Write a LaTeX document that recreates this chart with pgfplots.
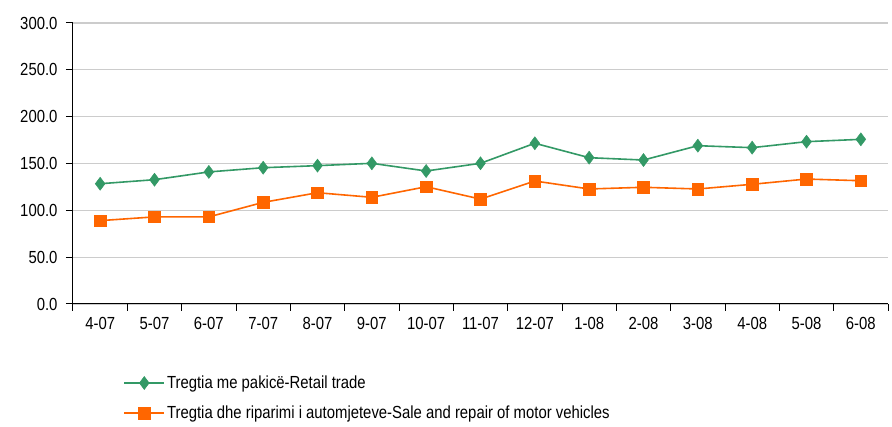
\documentclass[border=0pt]{standalone}
\usepackage{fontspec}
\setmainfont[FakeStretch=0.85]{Liberation Sans}
\usepackage{pgfplots}
\pgfplotsset{compat=1.18}
\definecolor{retail}{HTML}{339966}
\definecolor{motor}{HTML}{FF6600}
\begin{document}
\begin{tikzpicture}
\fill[white] (-73pt,-123pt) rectangle (819pt,304pt);
\begin{axis}[
  at={(0pt,0pt)}, anchor=south west,
  scale only axis, width=815pt, height=281pt,
  xmin=-0.5, xmax=14.5, ymin=0, ymax=300,
  axis x line*=bottom, axis y line*=left,
  axis line style={black, line width=1pt, -},
  xtick={-0.5,0.5,...,14.5},
  xticklabels={},
  extra x ticks={0,1,...,14},
  extra x tick labels={4-07,5-07,6-07,7-07,8-07,9-07,10-07,11-07,12-07,1-08,2-08,3-08,4-08,5-08,6-08},
  extra x tick style={major tick length=0pt, tick style={draw=none}},
  x tick label style={font=\fontsize{17.5}{19}\selectfont, yshift=-10pt},
  ytick={0,50,...,300},
  major tick length=7pt,
  tick align=outside,
  tick style={black, line width=1pt},
  ymajorgrids, grid style={gray!40, line width=1.2pt},
  yticklabel style={font=\fontsize{17.5}{19}\selectfont, xshift=-5pt, /pgf/number format/.cd, fixed, fixed zerofill, precision=1, assume math mode=true},
  scaled y ticks=false,
  clip=false,
  legend style={at={(0.058,-0.241)}, anchor=north west, draw=none, fill=none,
    font=\fontsize{17.5}{19}\selectfont, row sep=12pt, cells={anchor=west}},
  legend image code/.code={\draw[#1] (0pt,0pt) -- (40pt,0pt); \draw[#1, mark repeat=1] plot coordinates {(20pt,0pt)};},
]
\addplot[color=retail, line width=1.6pt, mark=diamond*, mark size=6.5pt, mark options={fill=retail, line width=0.5pt}]
coordinates {(0,128.4)(1,132.7)(2,141)(3,145.5)(4,147.7)(5,150.2)(6,142)(7,150.2)(8,171.6)(9,156.2)(10,153.7)(11,169)(12,166.9)(13,173.3)(14,175.8)};
\addlegendentry{Tregtia me pakicë-Retail trade}
\addplot[color=motor, line width=1.6pt, mark=square*, mark size=5.8pt, mark options={fill=motor, line width=0.5pt}]
coordinates {(0,89)(1,93)(2,93)(3,108.5)(4,118.8)(5,113.9)(6,125.2)(7,112)(8,131.3)(9,122.8)(10,124.6)(11,122.8)(12,127.8)(13,133.4)(14,131.6)};
\addlegendentry{Tregtia dhe riparimi i automjeteve-Sale and repair of motor vehicles}
\end{axis}
\end{tikzpicture}
\end{document}
